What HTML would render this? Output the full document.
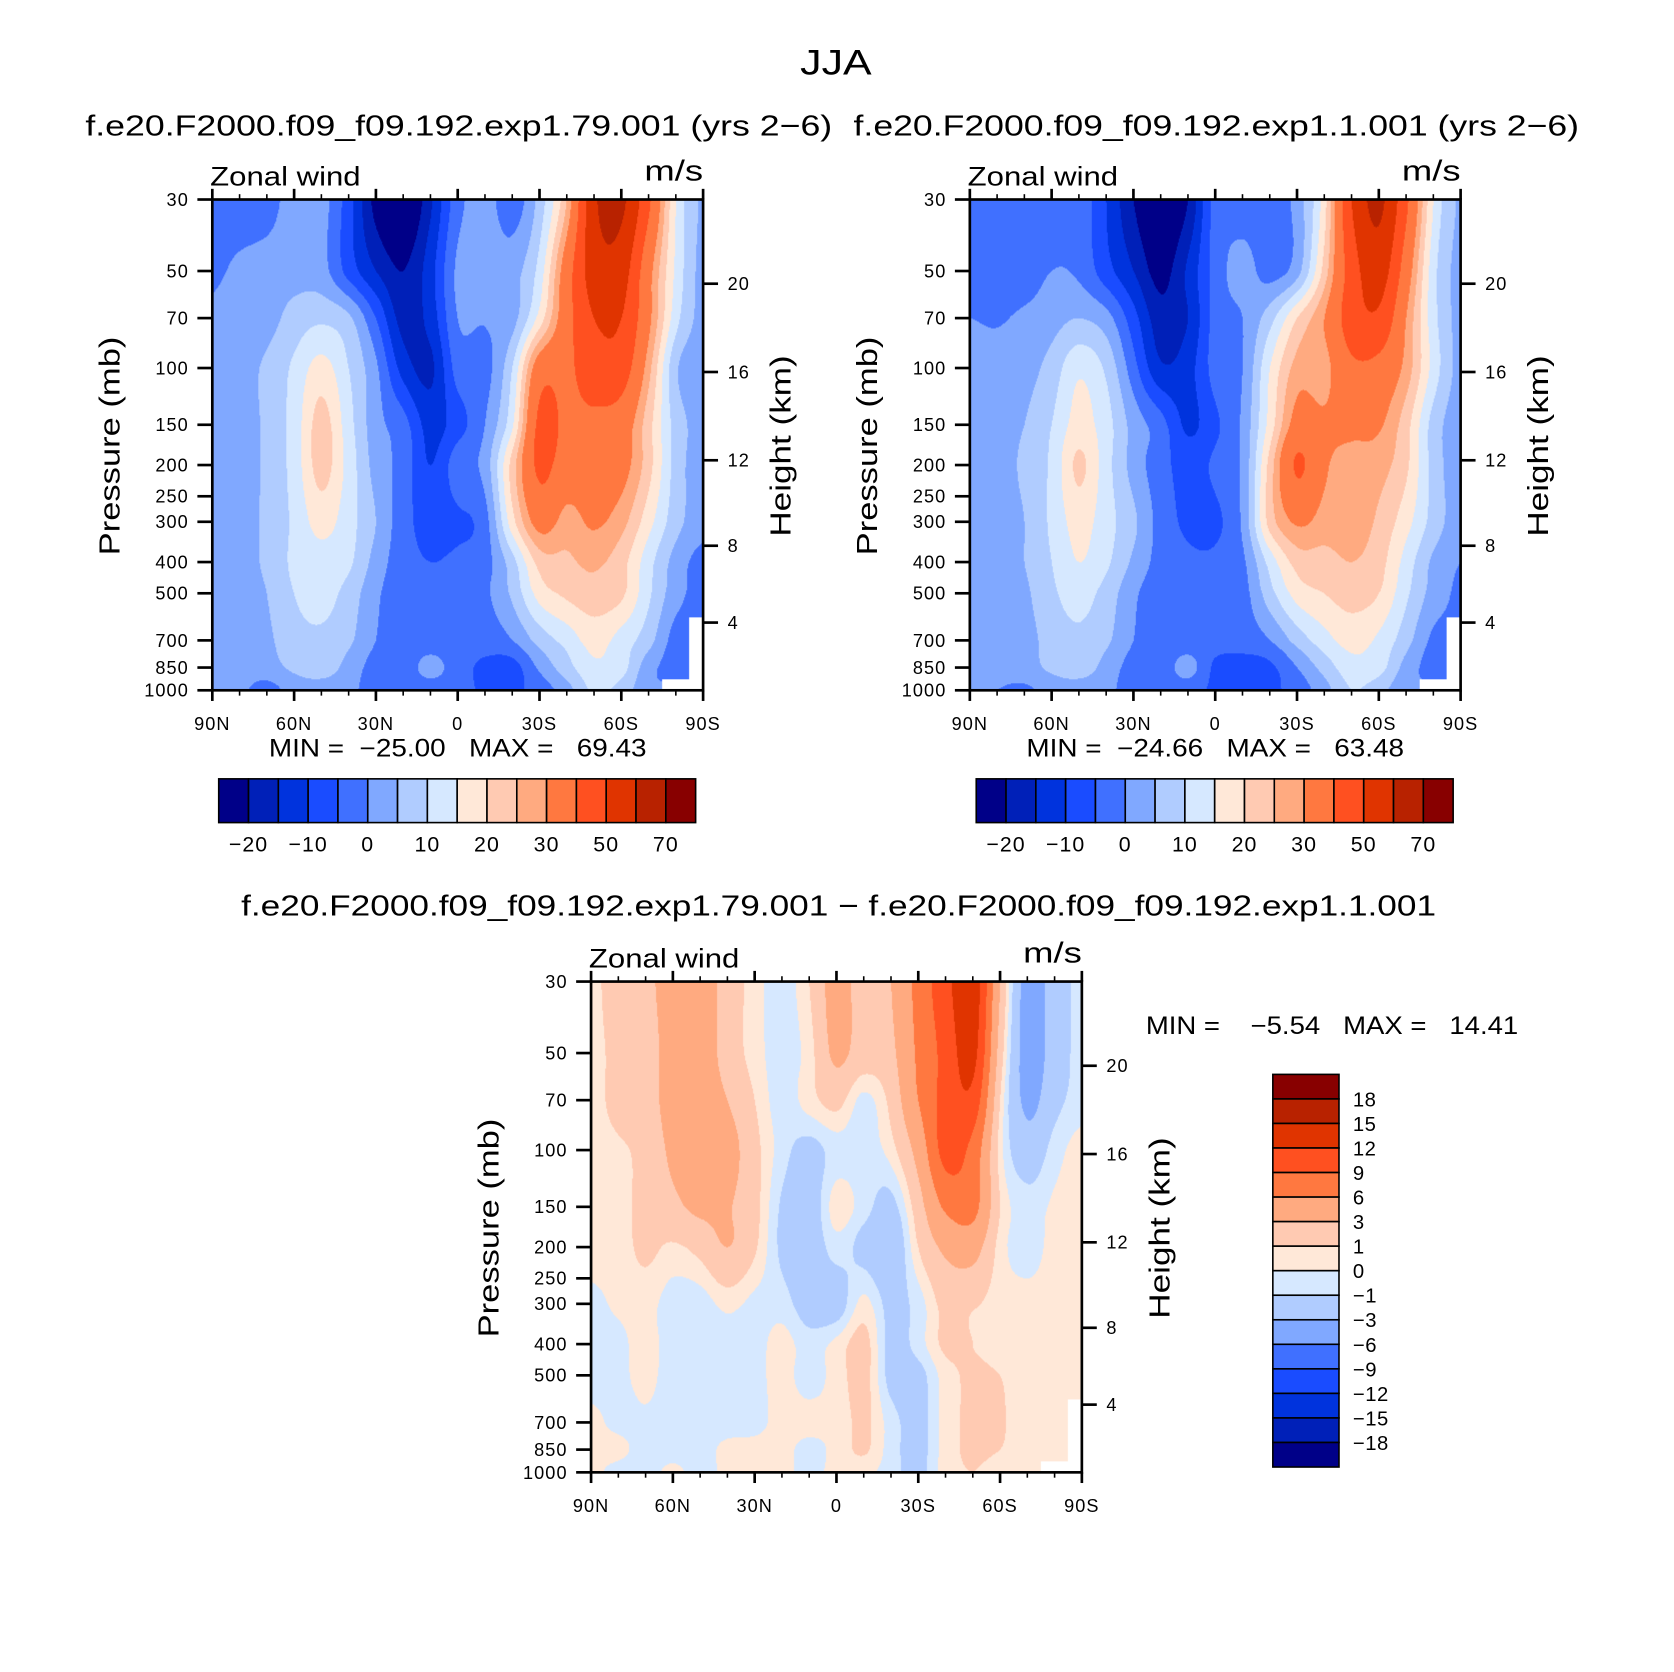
<!DOCTYPE html>
<html><head><meta charset="utf-8"><title>JJA Zonal wind</title>
<style>
html,body{margin:0;padding:0;background:#fff;width:1674px;height:1672px;overflow:hidden}
#root{position:absolute;left:0;top:0;width:1569px;height:1567px;transform:scale(1.06692);transform-origin:0 0}
svg{position:absolute;left:0;top:0}
canvas{position:absolute;width:460px;height:460px}
text{font-family:"Liberation Sans",sans-serif;fill:#000}
</style></head>
<body>
<div id="root">
<canvas id="c0" width="491" height="491" style="left:199px;top:187px"></canvas>
<canvas id="c1" width="491" height="491" style="left:909px;top:187px"></canvas>
<canvas id="c2" width="491" height="491" style="left:554px;top:920px"></canvas>
<svg id="svg" width="1569" height="1567" viewBox="0 0 1569 1567">
<text x="750" y="70" font-size="33" textLength="67" lengthAdjust="spacingAndGlyphs">JJA</text>
<text x="80" y="127" font-size="27" textLength="700" lengthAdjust="spacingAndGlyphs">f.e20.F2000.f09_f09.192.exp1.79.001 (yrs 2−6)</text>
<text x="800" y="127" font-size="27" textLength="680" lengthAdjust="spacingAndGlyphs">f.e20.F2000.f09_f09.192.exp1.1.001 (yrs 2−6)</text>
<text x="226" y="858" font-size="27" textLength="1120" lengthAdjust="spacingAndGlyphs">f.e20.F2000.f09_f09.192.exp1.79.001 − f.e20.F2000.f09_f09.192.exp1.1.001</text>
<text x="252" y="709" font-size="23" xml:space="preserve" textLength="354" lengthAdjust="spacingAndGlyphs">MIN =  −25.00   MAX =   69.43</text>
<text x="962" y="709" font-size="23" xml:space="preserve" textLength="354" lengthAdjust="spacingAndGlyphs">MIN =  −24.66   MAX =   63.48</text>
<text x="1074" y="969" font-size="23" xml:space="preserve" textLength="349" lengthAdjust="spacingAndGlyphs">MIN =    −5.54   MAX =   14.41</text>
</svg>
</div>
<script>
// ---- data ----
const lats = [90,80,70,60,50,40,30,20,10,0,-10,-20,-30,-40,-50,-60,-70,-80,-90];
const plevs = [30,50,70,100,150,200,300,400,500,700,850,1000];
const fieldA = [
[-3,-3,-2,2,2,-8,-22,-27,-16,-2,2,-3,7,25,58,62,42,15,4],
[-1,1,2,3,2,-7,-15,-20,-12,1,3,3,12,35,55,55,33,14,3],
[1,2,3,7,9,6,-5,-17,-13,0,0.5,3,17,36,50,50,32,12,3],
[2,3,6,11,17,10,1,-12,-16,-3,-2,10,35,38,45,45,27,6,2],
[2,3,6,12,22,12,2,-3,-12,-7,0,14,42,38,38,35,22,8,3],
[2,3,6,12,22,13,3,-2,-10,-2,2,22,42,35,35,33,22,8,2],
[2,3,6,11,17,12,5,-3,-7,-6,-2,18,33,28,31,27,17,7,2],
[2,3,6,11,13,11,3,-3,-5,-4,-2,8,22,24,26,22,12,3,-2],
[1,2,5,10,12,8,1,-3,-3,-3,-1,6,17,21,23,21,11,2,-2],
[1,2,4,8,9,6,0,-3,-3,-3,-3,0,7,12,17,13,7,-2,null],
[2,2,3,6,8,3,-2,-3,2,-3,-6,-7,1,8,14,12,2,-2,null],
[1,1,-2,2,2,1,-2,-3,-3,-3,-6,-6,-3,3,11,8,1,null,null]];
const fieldB = [
[-3,-3,-3,-3,-2,-10,-20,-27,-20,-3,-3,-3,2,18,50,62,42,15,4],
[-3,-3,-3,0,-1,-8,-15,-22,-14,-3,2,-2,3,22,45,55,35,12,3],
[0,-0.5,1,3,5,2,-8,-18,-15,-3,0,8,20,30,45,48,30,12,3],
[2,2,3,7,14,9,-3,-14,-12,-3,0,15,27,28,38,37,28,13,3],
[2,3,5,10,17,12,3,-3,-11,-6,1,17,33,31,32,31,22,8,2],
[2,3,6,11,21,12,3,-3,-7,-4,1,22,41,31,28,27,21,8,2],
[2,3,5,11,17,12,6,-2,-6,-6,1,22,31,28,28,24,17,8,2],
[2,3,5,10,15,11,4,-2,-4,-4,-1,12,22,23,25,22,13,4,0],
[1,2,4,9,12,8,1,-3,-3,-3,-2,8,17,20,22,20,11,3,-1],
[1,2,3,7,9,6,0,-3,-3,-3,-3,0,7,13,17,14,7,-1,null],
[2,2,3,6,8,3,-2,-3,2,-6,-7,-6,0,7,13,12,3,-2,null],
[1,0,-1,2,2,1,-2,-3,-3,-6,-7,-6,-3,3,10,7,1,null,null]];
const fieldD = [
[0.5,2,2.5,4,4.5,2,0.5,-0.5,1,4,2,3,7,11,14,3,-4,-2,-0.5],
[0.5,1.5,2,4,4.5,2,0.5,-0.5,0.5,3.5,2,2.5,6.5,10,13,2,-4,-2,-0.5],
[0.5,1.5,2,4,4.5,3,1,-0.5,0.5,1.5,-0.3,1.5,6,10,11,1,-3.5,-1.5,-0.5],
[0.5,0.8,1.5,3.5,4.5,4,1.5,-0.5,-1.5,-0.5,-0.5,0.5,4,10,8,0.5,-2,-0.5,0.5],
[0.5,0.6,1.5,2.5,3.5,3.2,1.5,-1.2,-2,0.5,-0.5,-1.5,2,6.5,7,1,-0.5,0.2,0.5],
[0.5,0.5,1.3,0.8,1.5,3,1.2,-1.3,-2,-0.5,-1.5,-2.5,1,3.5,4,0.5,-0.5,0.4,0.5],
[-0.3,0.2,0.4,-0.5,-0.5,0.3,-0.3,-0.5,-1.8,-1.8,0.3,-1.5,-0.5,1.5,1.2,0.5,0.4,0.5,0.5],
[-0.5,-0.3,0.4,-0.5,-0.5,-0.3,-0.4,0.4,-0.5,0.3,1.5,-1.5,-0.5,1.3,1,0.5,0.5,0.5,0.5],
[-0.5,-0.3,0.3,-0.5,-0.5,-0.5,-0.3,0.3,-0.4,0.4,1.5,-1.5,-1.5,0.5,1.2,1,0.5,0.5,0.5],
[0.3,-0.3,-0.2,-0.5,-0.5,-0.5,-0.3,0.3,0.3,0.3,1.3,-0.5,-1.5,0.5,1.2,1.1,0.5,0.5,null],
[0.3,0.3,-0.5,-0.5,-0.5,0.3,0.3,0.3,-0.3,0.3,1.2,-0.5,-1.5,0.5,1.2,1,0.5,0.4,null],
[0.3,-0.4,-0.5,0.3,-0.5,0.3,0.3,0.3,-0.3,0.3,0.3,-0.5,-1.5,0.5,1,0.5,0.3,null,null]];
const levelsAB = [-20,-15,-10,-5,0,5,10,15,20,25,30,40,50,60,70];
const levelsD = [-18,-15,-12,-9,-6,-3,-1,0,1,3,6,9,12,15,18];
const cbLabelsAB = ["−20","−10","0","10","20","30","50","70"];
const cbLabelsD = ["18","15","12","9","6","3","1","0","−1","−3","−6","−9","−12","−15","−18"];
const latTicks = [90,60,30,0,-30,-60,-90];
const latTickLabels = ["90N","60N","30N","0","30S","60S","90S"];
const pTicks = [30,50,70,100,150,200,250,300,400,500,700,850,1000];
const kmTicks = [4,8,12,16,20];
const palette = ["#000088","#0020B8","#0033DD","#1A4CFF","#4070FF","#80A8FF","#B0CCFF","#D6E8FF","#FFE8D8","#FFCAB2","#FFAA80","#FF7840","#FF5020","#E03400","#B82200","#880000"];

// ---- scales ----
const PW = 460, PH = 460;
const xLat = (lat, x0) => x0 + (90 - lat) / 180 * PW;
const yP = (p, y0) => y0 + Math.log(p / 30) / Math.log(1000 / 30) * PH;
function pOfKm(z){const m=z*1000; return m<=11000?1013.25*Math.pow(1-2.25577e-5*m,5.25588):226.32*Math.exp(-(m-11000)/6341.6);}
function bin(v, lv){let i=0; while(i<lv.length && v>=lv[i]) i++; return i;}
function hex2rgb(h){return [parseInt(h.substr(1,2),16),parseInt(h.substr(3,2),16),parseInt(h.substr(5,2),16)];}
const palRGB = palette.map(hex2rgb);

function filled(field){
  // fill nulls with nearest valid value in the row (for interpolation only)
  return field.map(row => row.map((v, i) => {
    if (v !== null) return v;
    for (let d = 1; d < row.length; d++) {
      if (i - d >= 0 && row[i - d] !== null) return row[i - d];
      if (i + d < row.length && row[i + d] !== null) return row[i + d];
    }
    return 0;
  }));
}
function cr(p0,p1,p2,p3,t){return 0.5*((2*p1)+(-p0+p2)*t+(2*p0-5*p1+4*p2-p3)*t*t+(-p0+3*p1-3*p2+p3)*t*t*t);}
function drawField(id, field, lv){
  const F = filled(field);
  const nI = lats.length, nJ = plevs.length;
  const lpl = plevs.map(Math.log);
  const cv = document.getElementById(id), ctx = cv.getContext('2d');
  const W = cv.width, H = cv.height, img = ctx.createImageData(W, H);
  const g = (j, i) => F[Math.max(0, Math.min(nJ - 1, j))][Math.max(0, Math.min(nI - 1, i))];
  for (let py = 0; py < H; py++) {
    const lp = Math.log(30) + (py + 0.5) / H * Math.log(1000 / 30);
    let j0 = 0; while (j0 < nJ - 2 && lpl[j0 + 1] < lp) j0++;
    const ty = (lp - lpl[j0]) / (lpl[j0 + 1] - lpl[j0]);
    for (let px = 0; px < W; px++) {
      const fi = (px + 0.5) / W * (nI - 1);
      const i0 = Math.min(Math.floor(fi), nI - 2), tx = fi - i0;
      const k = (py * W + px) * 4;
      const ni = tx < 0.5 ? i0 : i0 + 1, nj = ty < 0.5 ? j0 : j0 + 1;
      if (field[nj][ni] === null) { img.data[k]=255; img.data[k+1]=255; img.data[k+2]=255; img.data[k+3]=255; continue; }
      const rows = [];
      for (let dj = -1; dj <= 2; dj++) rows.push(cr(g(j0+dj,i0-1), g(j0+dj,i0), g(j0+dj,i0+1), g(j0+dj,i0+2), tx));
      const v = cr(rows[0], rows[1], rows[2], rows[3], ty);
      const c = palRGB[bin(v, lv)];
      img.data[k]=c[0]; img.data[k+1]=c[1]; img.data[k+2]=c[2]; img.data[k+3]=255;
    }
  }
  ctx.putImageData(img, 0, 0);
}
drawField('c0', fieldA, levelsAB);
drawField('c1', fieldB, levelsAB);
drawField('c2', fieldD, levelsD);

// ---- axes ----
const NS = 'http://www.w3.org/2000/svg';
const svg = document.getElementById('svg');
function mk(tag, attrs, parent){const e=document.createElementNS(NS,tag); for(const k in attrs) e.setAttribute(k,attrs[k]); (parent||svg).appendChild(e); return e;}
function drawAxes(x0, y0, tag){
  const g = mk('g', {});
  
  
  const fr = mk('rect', {x:x0, y:y0, width:PW, height:PH, fill:'none', stroke:'#000', 'stroke-width':2.5}, g);
  
  
  for (let lat = 90; lat >= -90; lat -= 10) {
    const x = xLat(lat, x0); const major = lat % 30 === 0; const L = major ? 10 : 5;
    mk('line', {x1:x, x2:x, y1:y0, y2:y0 - L, stroke:'#000', 'stroke-width':major?2.5:1.5}, g);
    mk('line', {x1:x, x2:x, y1:y0 + PH, y2:y0 + PH + L, stroke:'#000', 'stroke-width':major?2.5:1.5}, g);
  }
  latTicks.forEach((lat, i) => {
    const t = mk('text', {x:xLat(lat, x0), y:y0 + PH + 37, 'font-size':17, 'letter-spacing':1, 'text-anchor':'middle'}, g);
    t.textContent = latTickLabels[i];
    
    
  });
  pTicks.forEach(p => {
    const y = yP(p, y0);
    mk('line', {x1:x0, x2:x0 - 14, y1:y, y2:y, stroke:'#000', 'stroke-width':2.5}, g);
    const t = mk('text', {x:x0 - 22, y:y + 6, 'font-size':17, 'letter-spacing':1, 'text-anchor':'end'}, g);
    t.textContent = p;
    
    
  });
  kmTicks.forEach(z => {
    const y = yP(pOfKm(z), y0);
    mk('line', {x1:x0 + PW, x2:x0 + PW + 14, y1:y, y2:y, stroke:'#000', 'stroke-width':2.5}, g);
    const t = mk('text', {x:x0 + PW + 23, y:y + 6, 'font-size':17, 'letter-spacing':1}, g);
    t.textContent = z;
    
    
  });
  const zw = mk('text', {x:x0 - 2, y:y0 - 13, 'font-size':25, textLength:141, lengthAdjust:'spacingAndGlyphs'}, g); zw.textContent = 'Zonal wind';
  
  
  const ms = mk('text', {x:x0 + PW - 55, y:y0 - 18, 'font-size':27, textLength:55, lengthAdjust:'spacingAndGlyphs'}, g); ms.textContent = 'm/s';
  
  
  const yt = mk('text', {x:0, y:0, 'font-size':27, 'text-anchor':'middle', textLength:205, lengthAdjust:'spacingAndGlyphs', transform:`translate(${x0 - 87},${y0 + 231}) rotate(-90)`}, g);
  yt.textContent = 'Pressure (mb)';
  
  
  const ht = mk('text', {x:0, y:0, 'font-size':27, 'text-anchor':'middle', textLength:170, lengthAdjust:'spacingAndGlyphs', transform:`translate(${x0 + PW + 82},${y0 + 231}) rotate(-90)`}, g);
  ht.textContent = 'Height (km)';
  
  
}
drawAxes(199, 187, 'left-panel');
drawAxes(909, 187, 'right-panel');
drawAxes(554, 920, 'difference-panel');

function hBar(x0, y0, tag){
  const g = mk('g', {});
  
  
  const bw = 447 / palette.length;
  palette.forEach((c, i) => {
    const r = mk('rect', {x:x0 + i * bw, y:y0, width:bw, height:41, fill:c, stroke:'#000', 'stroke-width':1.5}, g);
    
    
  });
  cbLabelsAB.forEach((s, i) => {
    const t = mk('text', {x:x0 + (1 + 2 * i) * bw, y:y0 + 68, 'font-size':20, 'letter-spacing':1, 'text-anchor':'middle'}, g);
    t.textContent = s;
    
    
  });
}
hBar(205, 730, 'left-colorbar');
hBar(915, 730, 'right-colorbar');
(function(){
  const g = mk('g', {});
  
  
  const bh = 368 / palette.length;
  palette.slice().reverse().forEach((c, i) => {
    const r = mk('rect', {x:1193, y:1007 + i * bh, width:62, height:bh, fill:c, stroke:'#000', 'stroke-width':1.5}, g);
    
    
  });
  cbLabelsD.forEach((s, i) => {
    const t = mk('text', {x:1268, y:1007 + (i + 1) * bh + 7, 'font-size':19, 'letter-spacing':0.5}, g);
    t.textContent = s;
    
    
  });
})();
</script>
</body></html>
